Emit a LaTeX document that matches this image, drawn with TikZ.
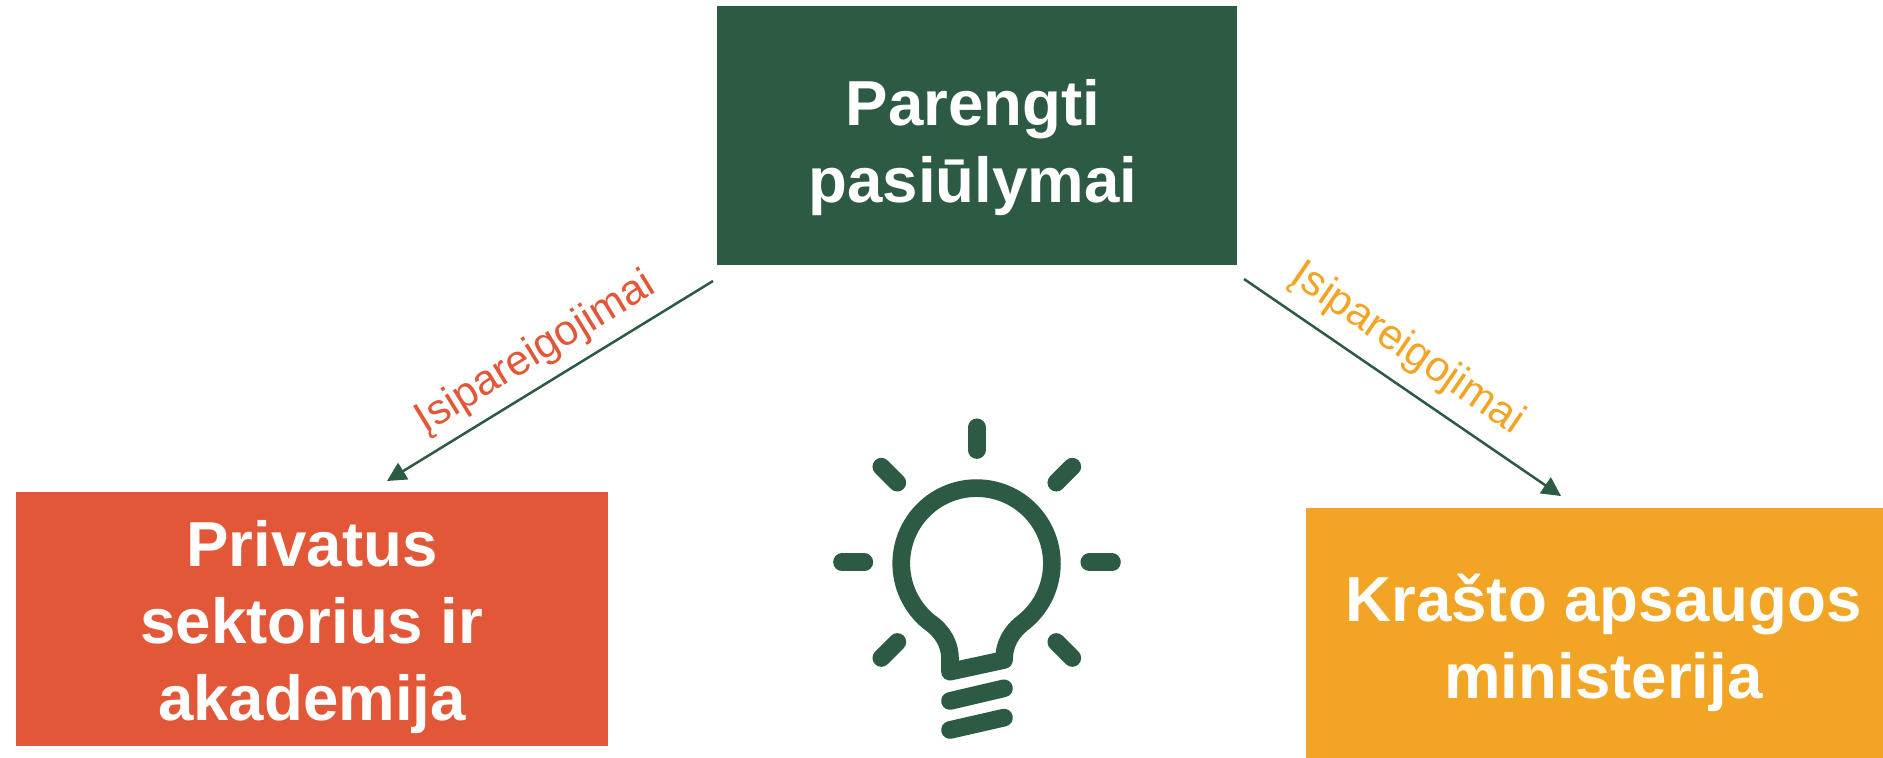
\documentclass[tikz,border=0pt]{standalone}
\usepackage{fontspec}
\setmainfont{Liberation Sans}
\usetikzlibrary{arrows.meta}
\definecolor{dgreen}{HTML}{2C5A43}
\definecolor{dred}{HTML}{E25737}
\definecolor{dorange}{HTML}{F2A424}
\tikzset{
  box/.style={anchor=north west,inner sep=0pt,outer sep=0pt},
  boxtext/.style={text=white,align=center,inner sep=0pt,font=\fontsize{63.6}{77}\selectfont\bfseries},
  lbl/.style={inner sep=0pt,font=\fontsize{42.5}{48}\selectfont},
  conn/.style={draw=dgreen,line width=2.5pt,-{Triangle[length=19pt,width=19pt]}},
  bulb/.style={draw=dgreen,line width=17.7pt,line cap=round,line join=round}
}
\begin{document}
\begin{tikzpicture}[x=1pt,y=-1pt]
\useasboundingbox (0,0) rectangle (1883,758);
\fill[white] (0,0) rectangle (1883,758);
\node[box,fill=dgreen,minimum width=520pt,minimum height=259pt] (top) at (717,6) {};
\node[boxtext] (toptext) at (973,148) {Parengti\\pasiūlymai};
\node[box,fill=dred,minimum width=592pt,minimum height=254pt] (left) at (16,492) {};
\node[boxtext] (lefttext) at (312,627) {Privatus\\sektorius ir\\akademija};
\node[box,fill=dorange,minimum width=577pt,minimum height=250pt] (right) at (1306,508) {};
\node[boxtext] (righttext) at (1603.5,642.5) {Krašto apsaugos\\ministerija};
\coordinate (a1) at (713,281);
\coordinate (a2) at (387,481);
\coordinate (b1) at (1244,279);
\coordinate (b2) at (1561,496);
\draw[conn] (a1) -- (a2);
\draw[conn] (b1) -- (b2);
\node[lbl,text=dred,rotate=31.5] (la) at (536,353) {Įsipareigojimai};
\node[lbl,text=dorange,rotate=-34.4] (lb) at (1407,349) {Įsipareigojimai};
\begin{scope}[shift={(800,400)},x=0.3333pt,y=-0.3333pt]
\draw[bulb] (672,666) arc[start angle=51,end angle=-231,radius=226]
  .. controls (430,695) and (450,735) .. (450,775) -- (450,815) -- (612,780)
  .. controls (612,735) and (632,695) .. (672,666);
\draw[bulb] (450,903) -- (612,865);
\draw[bulb] (450,990) -- (612,953);
\draw[bulb] (530,82) -- (530,150);
\draw[bulb] (244,200) -- (292,248);
\draw[bulb] (817,200) -- (769,248);
\draw[bulb] (126,487) -- (193,487);
\draw[bulb] (868,487) -- (936,487);
\draw[bulb] (292,726) -- (244,774);
\draw[bulb] (769,726) -- (817,774);
\end{scope}
\end{tikzpicture}
\end{document}
